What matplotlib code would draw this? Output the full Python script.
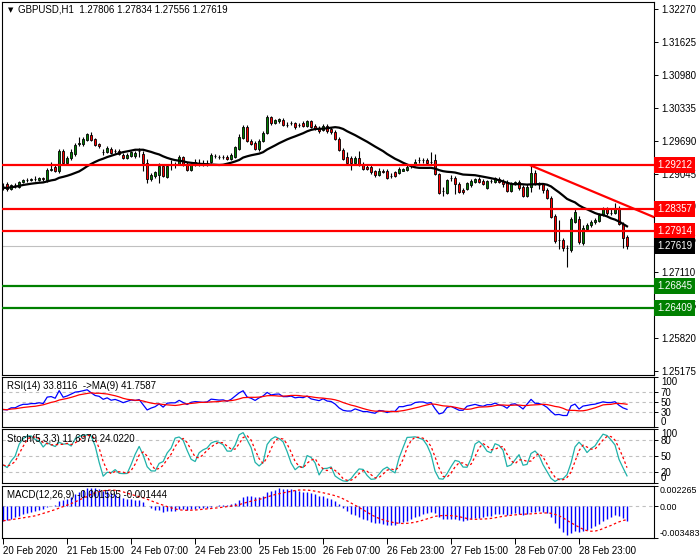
import numpy as np
import pandas as pd
import matplotlib
matplotlib.use('Agg')
import matplotlib.pyplot as plt

plt.rcParams['font.family'] = ['Liberation Sans', 'DejaVu Sans']
FS = 7

# ---- data (GBPUSD H1) ----
opens = [
    1.2879, 1.2883, 1.2875, 1.2881, 1.2879, 1.2887, 1.2891, 1.2891, 1.2893, 1.2891,
    1.2895, 1.2891, 1.2912, 1.2918, 1.2909, 1.2948, 1.2926, 1.2934, 1.2942, 1.2963,
    1.2963, 1.2971, 1.2979, 1.2973, 1.2963, 1.2946, 1.2946, 1.2952, 1.2948, 1.2948,
    1.2940, 1.2934, 1.2938, 1.2938, 1.2948, 1.2942, 1.2926, 1.2893, 1.2899, 1.2901,
    1.2920, 1.2897, 1.2922, 1.2922, 1.2924, 1.2936, 1.2924, 1.2912, 1.2922, 1.2926,
    1.2924, 1.2926, 1.2928, 1.2938, 1.2936, 1.2936, 1.2936, 1.2932, 1.2936, 1.2952,
    1.2975, 1.2995, 1.2969, 1.2965, 1.2952, 1.2969, 1.2983, 1.3016, 1.3003, 1.3007,
    1.3010, 1.2999, 1.3003, 1.3003, 1.2999, 1.3003, 1.2997, 1.3007, 1.2997, 1.2993,
    1.2989, 1.2997, 1.2991, 1.2985, 1.2973, 1.2950, 1.2936, 1.2934, 1.2926, 1.2934,
    1.2924, 1.2918, 1.2918, 1.2909, 1.2901, 1.2910, 1.2909, 1.2899, 1.2907, 1.2905,
    1.2910, 1.2912, 1.2920, 1.2922, 1.2930, 1.2930, 1.2930, 1.2928, 1.2930, 1.2903,
    1.2871, 1.2867, 1.2895, 1.2895, 1.2883, 1.2873, 1.2875, 1.2881, 1.2887, 1.2893,
    1.2889, 1.2877, 1.2889, 1.2887, 1.2893, 1.2889, 1.2887, 1.2871, 1.2883, 1.2887,
    1.2879, 1.2860, 1.2879, 1.2905, 1.2881, 1.2883, 1.2873, 1.2856, 1.2822, 1.2775,
    1.2775, 1.2758, 1.2754, 1.2810, 1.2816, 1.2769, 1.2795, 1.2803, 1.2809, 1.2812,
    1.2824, 1.2834, 1.2828, 1.2828, 1.2836, 1.2805, 1.27806]
highs = [
    1.2885, 1.2887, 1.2883, 1.2885, 1.2889, 1.2893, 1.2895, 1.2895, 1.2899, 1.2897,
    1.2897, 1.2916, 1.2928, 1.2922, 1.2952, 1.2952, 1.2938, 1.2952, 1.2965, 1.2977,
    1.2977, 1.2983, 1.2985, 1.2975, 1.2965, 1.2952, 1.2958, 1.2956, 1.2952, 1.2952,
    1.2944, 1.2944, 1.2948, 1.2948, 1.2954, 1.2948, 1.2932, 1.2905, 1.2910, 1.2926,
    1.2924, 1.2924, 1.2930, 1.2928, 1.2940, 1.2938, 1.2928, 1.2928, 1.2932, 1.2932,
    1.2930, 1.2930, 1.2944, 1.2942, 1.2940, 1.2940, 1.2940, 1.2944, 1.2958, 1.2981,
    1.2999, 1.2999, 1.2973, 1.2969, 1.2973, 1.2987, 1.3020, 1.3018, 1.3012, 1.3014,
    1.3014, 1.3005, 1.3008, 1.3005, 1.3003, 1.3007, 1.3010, 1.3010, 1.3001, 1.2997,
    1.3001, 1.3001, 1.2995, 1.2989, 1.2977, 1.2954, 1.2946, 1.2938, 1.2938, 1.2948,
    1.2928, 1.2922, 1.2922, 1.2912, 1.2916, 1.2914, 1.2914, 1.2905, 1.2910, 1.2918,
    1.2916, 1.2922, 1.2924, 1.2932, 1.2936, 1.2934, 1.2934, 1.2946, 1.2942, 1.2905,
    1.2879, 1.2893, 1.2901, 1.2899, 1.2887, 1.2877, 1.2887, 1.2893, 1.2895, 1.2897,
    1.2893, 1.2891, 1.2893, 1.2897, 1.2897, 1.2893, 1.2891, 1.2887, 1.2889, 1.2891,
    1.2881, 1.2883, 1.2920, 1.2912, 1.2887, 1.2885, 1.2877, 1.2860, 1.2826, 1.2814,
    1.2779, 1.2765, 1.2820, 1.2836, 1.2822, 1.2803, 1.2807, 1.2814, 1.2818, 1.2828,
    1.2838, 1.2838, 1.2836, 1.2846, 1.2840, 1.2810, 1.27834]
lows = [
    1.2873, 1.2871, 1.2873, 1.2877, 1.2877, 1.2885, 1.2887, 1.2889, 1.2889, 1.2889,
    1.2889, 1.2887, 1.2909, 1.2907, 1.2905, 1.2922, 1.2922, 1.2930, 1.2938, 1.2959,
    1.2959, 1.2969, 1.2969, 1.2958, 1.2954, 1.2940, 1.2944, 1.2942, 1.2944, 1.2940,
    1.2932, 1.2932, 1.2936, 1.2934, 1.2936, 1.2909, 1.2885, 1.2889, 1.2895, 1.2885,
    1.2897, 1.2895, 1.2912, 1.2916, 1.2922, 1.2920, 1.2909, 1.2910, 1.2920, 1.2920,
    1.2920, 1.2920, 1.2926, 1.2934, 1.2932, 1.2932, 1.2930, 1.2930, 1.2934, 1.2950,
    1.2973, 1.2967, 1.2961, 1.2950, 1.2948, 1.2967, 1.2981, 1.2999, 1.3001, 1.3003,
    1.2997, 1.2995, 1.2999, 1.2991, 1.2995, 1.2995, 1.2995, 1.2993, 1.2989, 1.2983,
    1.2987, 1.2983, 1.2981, 1.2971, 1.2948, 1.2930, 1.2924, 1.2912, 1.2922, 1.2920,
    1.2912, 1.2912, 1.2903, 1.2897, 1.2899, 1.2905, 1.2893, 1.2895, 1.2897, 1.2903,
    1.2909, 1.2910, 1.2916, 1.2920, 1.2926, 1.2926, 1.2922, 1.2924, 1.2901, 1.2865,
    1.2860, 1.2865, 1.2889, 1.2865, 1.2867, 1.2865, 1.2873, 1.2879, 1.2885, 1.2885,
    1.2881, 1.2875, 1.2885, 1.2885, 1.2885, 1.2879, 1.2869, 1.2869, 1.2881, 1.2873,
    1.2858, 1.2858, 1.2869, 1.2881, 1.2875, 1.2867, 1.2854, 1.2818, 1.2769, 1.2756,
    1.2752, 1.2722, 1.2750, 1.2807, 1.2767, 1.2765, 1.2791, 1.2799, 1.2805, 1.2810,
    1.2822, 1.2824, 1.2824, 1.2826, 1.2803, 1.2758, 1.27556]
closes = [
    1.2877, 1.2875, 1.2881, 1.2881, 1.2887, 1.2891, 1.2891, 1.2893, 1.2893, 1.2895,
    1.2893, 1.2912, 1.2914, 1.2910, 1.2948, 1.2926, 1.2934, 1.2946, 1.2961, 1.2965,
    1.2973, 1.2981, 1.2971, 1.2961, 1.2958, 1.2946, 1.2954, 1.2944, 1.2948, 1.2942,
    1.2934, 1.2940, 1.2946, 1.2944, 1.2948, 1.2926, 1.2893, 1.2901, 1.2907, 1.2920,
    1.2899, 1.2920, 1.2922, 1.2922, 1.2936, 1.2924, 1.2912, 1.2924, 1.2928, 1.2926,
    1.2924, 1.2926, 1.2940, 1.2938, 1.2936, 1.2937, 1.2932, 1.2940, 1.2956, 1.2977,
    1.2995, 1.2969, 1.2963, 1.2952, 1.2969, 1.2983, 1.3016, 1.3003, 1.3010, 1.3012,
    1.2999, 1.2999, 1.3003, 1.2995, 1.2999, 1.2997, 1.3007, 1.2995, 1.2991, 1.2987,
    1.2997, 1.2987, 1.2985, 1.2973, 1.2950, 1.2932, 1.2926, 1.2926, 1.2934, 1.2924,
    1.2914, 1.2914, 1.2907, 1.2901, 1.2910, 1.2907, 1.2895, 1.2899, 1.2899, 1.2914,
    1.2914, 1.2918, 1.2920, 1.2928, 1.2930, 1.2930, 1.2926, 1.2928, 1.2903, 1.2867,
    1.2871, 1.2891, 1.2895, 1.2883, 1.2869, 1.2869, 1.2885, 1.2889, 1.2893, 1.2887,
    1.2883, 1.2889, 1.2889, 1.2895, 1.2887, 1.2883, 1.2871, 1.2885, 1.2887, 1.2877,
    1.2860, 1.2879, 1.2905, 1.2883, 1.2881, 1.2873, 1.2856, 1.2820, 1.2773, 1.2775,
    1.2758, 1.2758, 1.2816, 1.2830, 1.2771, 1.2797, 1.2803, 1.2810, 1.2814, 1.2824,
    1.2834, 1.2828, 1.2828, 1.2834, 1.2805, 1.2779, 1.27619]

time_labels = ['20 Feb 2020', '21 Feb 15:00', '24 Feb 07:00', '24 Feb 23:00',
               '25 Feb 15:00', '26 Feb 07:00', '26 Feb 23:00', '27 Feb 15:00',
               '28 Feb 07:00', '28 Feb 23:00']
bars_per_label = 16

price_ticks = [1.32270, 1.31625, 1.30980, 1.30335, 1.29690, 1.29045,
               1.28400, 1.27755, 1.27110, 1.26465, 1.25820, 1.25175]
resistance = [1.29212, 1.28357, 1.27914]
support = [1.26845, 1.26409]
last_price = 1.27619
trend_x = [132, 153]
trend_y = [1.2920, 1.2851]

title = 'GBPUSD,H1  1.27806 1.27834 1.27556 1.27619'
rsi_title = 'RSI(14) 33.8116  ->MA(9) 41.7587'
stoch_title = 'Stoch(5,3,3) 11.6979 24.0220'
macd_title = 'MACD(12,26,9) -0.001595 -0.001444'

# indicator state at the left edge of the chart
rsi_start = 35.0
macd_start = -0.0017
macd_min, macd_max = -0.003483, 0.002265

o = np.array(opens); h = np.array(highs); l = np.array(lows); c = np.array(closes)
n = len(c)
x = np.arange(n)

# ---- indicators ----
ma = pd.Series(c).rolling(20, min_periods=1).mean()

chg = np.diff(c, prepend=c[0])
al = 0.0005
ag = al * rsi_start / (100 - rsi_start)
rsi = np.zeros(n)
for k in range(n):
    ag = (ag * 13 + max(chg[k], 0)) / 14
    al = (al * 13 + max(-chg[k], 0)) / 14
    rsi[k] = 100 * ag / (ag + al)
rsi_ma = pd.Series(rsi).rolling(9, min_periods=1).mean()

hh = pd.Series(h).rolling(5, min_periods=1).max()
ll = pd.Series(l).rolling(5, min_periods=1).min()
num = (pd.Series(c) - ll).rolling(3, min_periods=1).sum()
den = (hh - ll).rolling(3, min_periods=1).sum()
stoch_k = 100 * num / den
stoch_d = stoch_k.rolling(3, min_periods=1).mean()

ema_f, ema_s = c[0], c[0] - macd_start
macd = np.zeros(n)
for k in range(n):
    ema_f += 2 / 13 * (c[k] - ema_f)
    ema_s += 2 / 27 * (c[k] - ema_s)
    macd[k] = ema_f - ema_s
macd_sig = pd.Series(macd).rolling(9, min_periods=1).mean()

# ---- layout (pixel boxes of the MT4 window) ----
W, H = 700, 560
fig = plt.figure(figsize=(7, 5.6), dpi=100)


def box(top, bottom, left=2, right=654):
    return [left / W, 1 - bottom / H, (right - left) / W, (bottom - top) / H]


ax = fig.add_axes(box(2, 375))
ax_rsi = fig.add_axes(box(377, 427), sharex=ax)
ax_st = fig.add_axes(box(429, 483), sharex=ax)
ax_m = fig.add_axes(box(486, 538), sharex=ax)

for a in (ax, ax_rsi, ax_st, ax_m):
    for s in a.spines.values():
        s.set_linewidth(0.8)
        s.set_color('black')
    a.yaxis.tick_right()
    a.tick_params(axis='y', direction='out', length=3, width=0.7, pad=2,
                  labelsize=FS, colors='black')
    a.tick_params(axis='x', bottom=False, labelbottom=False)
    a.set_facecolor('white')

ax.set_xlim(-0.3, 162.75)
ax.set_ylim(1.25095, 1.32407)

# candles
up = c >= o
body_lo = np.minimum(o, c)
body_h = np.abs(c - o)
ax.vlines(x, l, h, color='black', lw=0.8, zorder=2)
ax.bar(x[up], body_h[up], bottom=body_lo[up], width=0.6, color='#008000',
       edgecolor='black', linewidth=0.6, zorder=3)
ax.bar(x[~up], body_h[~up], bottom=body_lo[~up], width=0.6, color='#FF0000',
       edgecolor='black', linewidth=0.6, zorder=3)

ax.plot(x, ma, color='black', lw=1.6, zorder=4)

# levels
ax.axhline(last_price, color='#C0C0C0', lw=0.8, zorder=1)
for lv in resistance:
    ax.axhline(lv, color='#FF0000', lw=1.6, zorder=5)
for lv in support:
    ax.axhline(lv, color='#008000', lw=1.6, zorder=5)

slope = (trend_y[1] - trend_y[0]) / (trend_x[1] - trend_x[0])
x_end = ax.get_xlim()[1]
ax.plot([trend_x[0], x_end], [trend_y[0], trend_y[0] + slope * (x_end - trend_x[0])],
        color='#FF0000', lw=1.6, zorder=5, clip_on=True)

ax.set_yticks(price_ticks)
ax.set_yticklabels([f'{p:.5f}' for p in price_ticks])


def tag(a, value, face):
    a.annotate(f'{value:.5f}', xy=(1, value), xycoords=('axes fraction', 'data'),
               xytext=(2.2, 0), textcoords='offset points', va='center', ha='left',
               fontsize=FS, color='white', annotation_clip=False, zorder=10,
               bbox=dict(boxstyle='square,pad=0.3', facecolor=face, edgecolor='none'))


for lv in resistance:
    tag(ax, lv, '#FF0000')
tag(ax, last_price, 'black')
for lv in support:
    tag(ax, lv, '#008000')

fig.text(8 / W, 1 - 10 / H, '\u25bc', fontsize=5, family='DejaVu Sans',
         va='center', ha='left')
fig.text(18 / W, 1 - 10 / H, title, fontsize=FS, va='center', ha='left')

# RSI
ax_rsi.set_ylim(0, 100)
for lv in (70, 50, 30):
    ax_rsi.axhline(lv, color='#C0C0C0', lw=0.8, ls=(0, (3, 3)))
ax_rsi.plot(x, rsi, color='#0000FF', lw=0.9)
ax_rsi.plot(x, rsi_ma, color='#FF0000', lw=0.9)
ax_rsi.set_yticks([100, 70, 50, 30, 0])
ax_rsi.set_yticklabels(['100', '70', '50', '30', '0'])
fig.text(7 / W, 1 - 386 / H, rsi_title, fontsize=FS, va='center', ha='left')

# Stochastic
ax_st.set_ylim(0, 100)
for lv in (80, 50, 20):
    ax_st.axhline(lv, color='#C0C0C0', lw=0.8, ls=(0, (3, 3)))
ax_st.plot(x, stoch_k, color='#20B2AA', lw=0.9)
ax_st.plot(x, stoch_d, color='#FF0000', lw=0.9, ls=(0, (2, 2)))
ax_st.set_yticks([100, 80, 50, 20, 0])
ax_st.set_yticklabels(['100', '80', '50', '20', '0'])
fig.text(7 / W, 1 - 439 / H, stoch_title, fontsize=FS, va='center', ha='left')

# MACD
ax_m.set_ylim(macd_min, macd_max)
ax_m.axhline(0, color='#C0C0C0', lw=0.8, ls=(0, (3, 3)))
ax_m.vlines(x, 0, macd, color='#0000FF', lw=1.0)
ax_m.plot(x, macd_sig, color='#FF0000', lw=0.9, ls=(0, (2, 2)))
ax_m.set_yticks([macd_max, 0, macd_min])
ax_m.set_yticklabels(['0.002265', '0.00', '-0.003483'])
ax_m.tick_params(axis='y', pad=1)
for lbl in ax_m.get_yticklabels():
    lbl.set_fontsize(6.4)
fig.text(7 / W, 1 - 495 / H, macd_title, fontsize=FS, va='center', ha='left')

for a in (ax_rsi, ax_st, ax_m):
    labels = a.get_yticklabels()
    labels[0].set_va('top')
    labels[-1].set_va('bottom')

# time axis
ax_m.set_xticks(np.arange(len(time_labels)) * bars_per_label)
ax_m.set_xticklabels(time_labels)
ax_m.tick_params(axis='x', bottom=True, labelbottom=True, direction='out',
                 length=4, width=0.7, labelsize=FS, pad=2)
for lbl in ax_m.get_xticklabels():
    lbl.set_ha('left')

fig.savefig('out.png', dpi=100, facecolor='white')
